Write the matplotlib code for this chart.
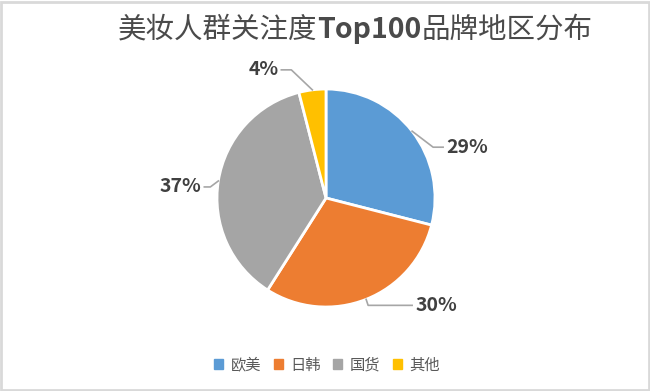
import numpy as np
import matplotlib.pyplot as plt
from matplotlib.patches import Rectangle

plt.rcParams['font.family'] = ['Noto Sans CJK SC', 'DejaVu Sans']

title_parts = ["美妆人群关注度", "Top100", "品牌地区分布"]
title_weights = ["light", "bold", "light"]
regions = ["欧美", "日韩", "国货", "其他"]
shares = [29, 30, 37, 4]
colors = ["#5B9BD5", "#ED7D31", "#A5A5A5", "#FFC000"]

# leader line: elbow offset from slice edge (px, +down), then horizontal run
elbow = [(21, 16), (2, 6), (-8, 6), (-21, -20)]
run = [10, 44, 6, 10]

fig = plt.figure(figsize=(6.5, 3.91), dpi=100)
ax = fig.add_axes([0, 0, 1, 1])

cx, cy, r = 326, 391 - 198, 109
wedges, _ = ax.pie(shares, colors=colors, startangle=90, counterclock=False,
                   center=(cx, cy), radius=r, frame=True,
                   wedgeprops=dict(edgecolor="white", linewidth=2))
ax.set_xlim(0, 650)
ax.set_ylim(0, 391)
ax.set_aspect("equal")
ax.axis("off")

for w, s, e, n in zip(wedges, shares, elbow, run):
    mid = np.deg2rad((w.theta1 + w.theta2) / 2)
    px, py = cx + r * np.cos(mid), cy + r * np.sin(mid)
    ex, ey = px + e[0], py - e[1]
    side = 1 if e[0] >= 0 else -1
    lx = ex + side * n
    ax.plot([px, ex, lx], [py, ey, ey], color="#A6A6A6", lw=1.2)
    ax.text(lx + side * 3, ey, f"{s}%", ha="left" if side > 0 else "right",
            va="center", fontsize=14, fontweight="bold", color="#404040")

# title with bold "Top100", laid out piece by piece
renderer = fig.canvas.get_renderer()
x = 118
for part, wt in zip(title_parts, title_weights):
    t = ax.text(x, 391 - 30, part, ha="left", va="center", fontsize=20.5,
                color="#4a4a4a", fontweight=wt)
    x += t.get_window_extent(renderer).width

handles = [Rectangle((0, 0), 1, 1, color=c) for c in colors]
fig.legend(handles, regions, loc="center", bbox_to_anchor=(0.503, 0.066),
           ncol=4, frameon=False, fontsize=11, handlelength=0.6,
           handleheight=0.6, handletextpad=0.5, columnspacing=0.8,
           labelcolor="#595959")

fig.add_artist(Rectangle((0.002, 0.002), 0.996, 0.994, transform=fig.transFigure,
                         fill=False, edgecolor="#D9D9D9", lw=2))

fig.savefig("out.png", dpi=100)
